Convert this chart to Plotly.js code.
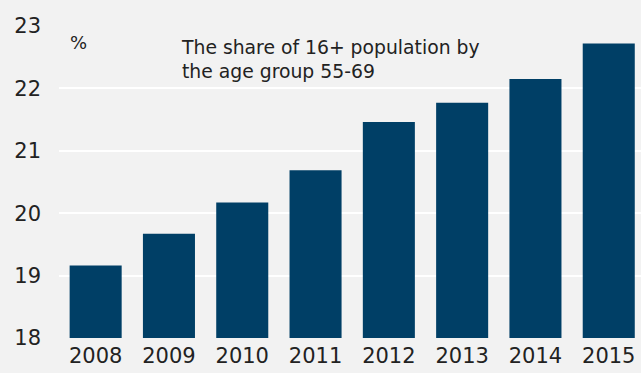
<!DOCTYPE html>
<html>
<head>
<meta charset="utf-8">
<script src="https://cdn.plot.ly/plotly-3.0.1.min.js"></script>
<style>html,body{margin:0;padding:0;background:#f2f2f2;}#chart{width:641px;height:373px;}</style>
</head>
<body>
<div id="chart"></div>
<script>
const years = ["2008","2009","2010","2011","2012","2013","2014","2015"];
const share = [19.16, 19.67, 20.17, 20.69, 21.46, 21.77, 22.15, 22.72];
const yTicks = [18, 19, 20, 21, 22, 23];
const unitLabel = "%";
const chartTitle = "The share of 16+ population by<br>the age group 55-69";

const fontFam = "DejaVu Sans, sans-serif";
const trace = {
  type: "bar",
  x: years,
  y: share,
  marker: {color: "#003f66", line: {width: 0}},
  hoverinfo: "none"
};
const layout = {
  width: 641, height: 373,
  margin: {l: 59, r: 0, t: 26, b: 35, pad: 0},
  paper_bgcolor: "#f2f2f2",
  plot_bgcolor: "#f2f2f2",
  bargap: 0.29,
  showlegend: false,
  font: {family: fontFam, color: "#222222", size: 19},
  xaxis: {
    type: "category",
    range: [-0.5, 7.44],
    showgrid: false, zeroline: false, showline: false,
    ticks: "",
    ticklabelstandoff: 3,
    tickfont: {family: fontFam, size: 21, color: "#222222"},
    fixedrange: true
  },
  yaxis: {
    range: [18, 23],
    tickvals: yTicks,
    showgrid: true, gridcolor: "#ffffff", gridwidth: 2,
    zeroline: false, showline: false,
    ticks: "",
    ticklabelstandoff: 17,
    tickfont: {family: fontFam, size: 21, color: "#222222"},
    fixedrange: true
  },
  annotations: [
    {xref: "x", yref: "y", x: -0.38, y: 22.73, text: unitLabel, showarrow: false,
     xanchor: "left", yanchor: "middle", font: {family: fontFam, size: 18, color: "#222222"}},
    {xref: "x", yref: "y", x: 1.135, y: 22.46, text: chartTitle, showarrow: false, align: "left",
     xanchor: "left", yanchor: "middle", font: {family: fontFam, size: 18.8, color: "#222222"}}
  ]
};
Plotly.newPlot("chart", [trace], layout, {displayModeBar: false, staticPlot: true});
</script>
</body>
</html>
